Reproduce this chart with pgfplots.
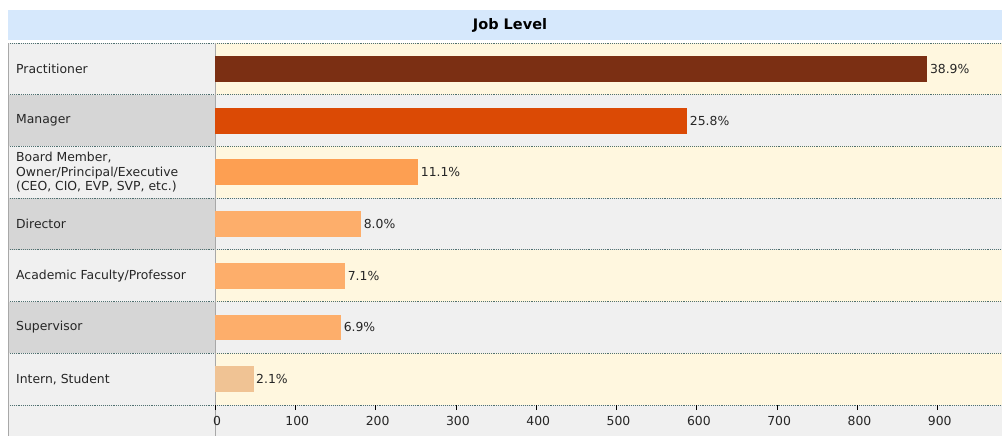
\documentclass[border=0pt]{standalone}
\usepackage{pgfplots}
\pgfplotsset{compat=1.18}
\usepackage{fontspec}
\setmainfont{DejaVu Sans}

\definecolor{titlebg}{HTML}{D6E8FC}
\definecolor{cream}{HTML}{FFF7DF}
\definecolor{lgray}{HTML}{F0F0F0}
\definecolor{dgray}{HTML}{D6D6D6}
\definecolor{dotc}{HTML}{4F7070}
\definecolor{edge}{HTML}{A8A8A8}
\definecolor{c1}{HTML}{7B2F13}
\definecolor{c2}{HTML}{DB4A05}
\definecolor{c3}{HTML}{FD9F52}
\definecolor{c4}{HTML}{FDAE6B}
\definecolor{c5}{HTML}{F0C394}

\newcommand\lab{\fontsize{12.4}{14.5}\selectfont}

\begin{document}
\begin{tikzpicture}[x=1pt,y=1pt]
\useasboundingbox (0,0) rectangle (1002,436);
\fill[white] (0,0) rectangle (1002,436);
% title band
\fill[titlebg] (8,396) rectangle (1002,426);
\node[font=\bfseries\fontsize{14.5}{16}\selectfont] at (510,411) {Job Level};
% row bands
\foreach \k in {0,...,6} {
  \pgfmathsetmacro\yt{393-\k*51.714}
  \pgfmathsetmacro\yb{393-(\k+1)*51.714}
  \ifodd\k
    \fill[dgray] (8,\yb) rectangle (215,\yt);
    \fill[lgray] (215,\yb) rectangle (1002,\yt);
  \else
    \fill[lgray] (8,\yb) rectangle (215,\yt);
    \fill[cream] (215,\yb) rectangle (1002,\yt);
  \fi
}
\fill[lgray] (8,0) rectangle (1002,31);
\foreach \k in {0,...,7} {
  \pgfmathsetmacro\yy{393-\k*51.714}
  \draw[dotc, densely dotted, line width=0.9pt] (8,\yy) -- (1002,\yy);
}
\draw[edge, line width=0.8pt] (8.4,0) -- (8.4,393);
\draw[edge, line width=1pt] (215,0) -- (215,393);

\begin{axis}[
  at={(215pt,31pt)}, anchor=south west,
  scale only axis, width=787pt, height=362pt,
  xmin=0, xmax=980, ymin=-0.5, ymax=6.5,
  y dir=reverse,
  axis line style={draw=none},
  xtick={0,100,...,900},
  xtick pos=bottom,
  tick align=outside,
  major tick length=5pt,
  xtick style={black, line width=0.8pt},
  ytick={0,...,6},
  ytick style={draw=none},
  yticklabels={Practitioner, Manager, {Board Member,\\Owner/Principal/Executive\\(CEO, CIO, EVP, SVP, etc.)}, Director, Academic Faculty/Professor, Supervisor, {Intern, Student}},
  yticklabel style={anchor=west, inner sep=0pt, xshift=-194pt, align=left, font=\lab, text=black!85},
  xticklabel style={font=\lab, text=black!85, xshift=2pt, yshift=-3pt},
  /pgf/number format/assume math mode=true,
  clip=false,
  every node near coord/.append style={font=\lab, text=black!85, anchor=west, inner sep=2.5pt},
  point meta=explicit symbolic,
  nodes near coords,
]
\addplot[xbar, bar shift=0pt, bar width=0.5, fill=c1, draw=none] coordinates {(887,0) [38.9\%]};
\addplot[xbar, bar shift=0pt, bar width=0.5, fill=c2, draw=none] coordinates {(588,1) [25.8\%]};
\addplot[xbar, bar shift=0pt, bar width=0.5, fill=c3, draw=none] coordinates {(253,2) [11.1\%]};
\addplot[xbar, bar shift=0pt, bar width=0.5, fill=c4, draw=none] coordinates {(182,3) [8.0\%]};
\addplot[xbar, bar shift=0pt, bar width=0.5, fill=c4, draw=none] coordinates {(162,4) [7.1\%]};
\addplot[xbar, bar shift=0pt, bar width=0.5, fill=c4, draw=none] coordinates {(157,5) [6.9\%]};
\addplot[xbar, bar shift=0pt, bar width=0.5, fill=c5, draw=none] coordinates {(48,6) [2.1\%]};
\end{axis}
\end{tikzpicture}
\end{document}
